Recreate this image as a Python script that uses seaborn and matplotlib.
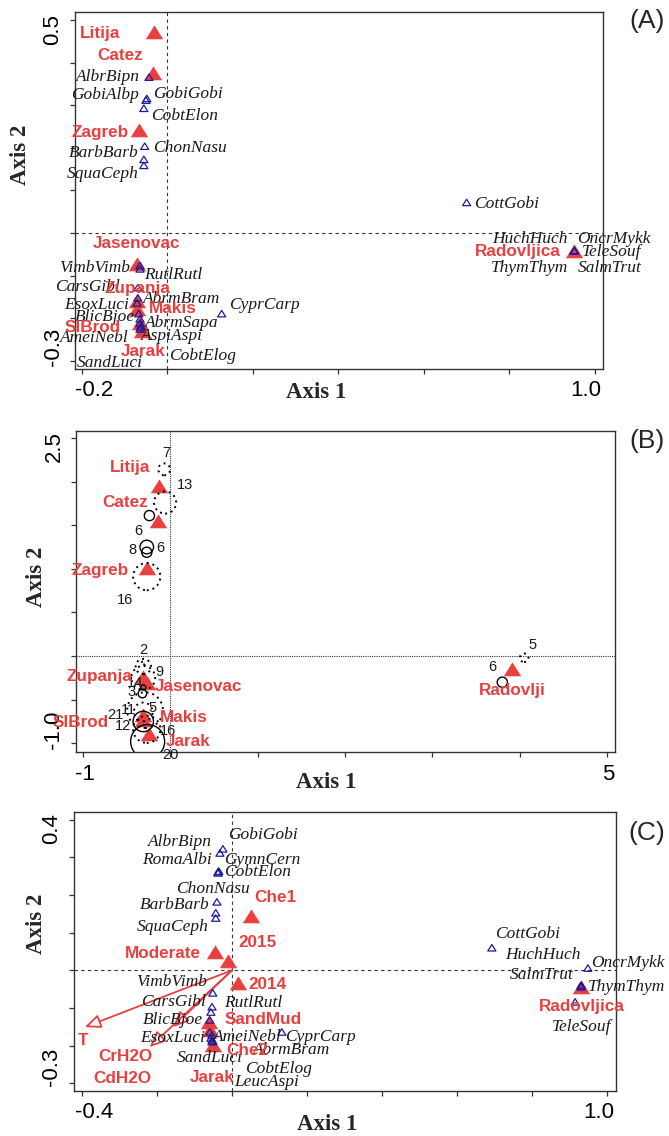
import matplotlib
matplotlib.use("Agg")
import matplotlib.pyplot as plt
from matplotlib.path import Path
import seaborn as sns
import pandas as pd

# ---------------- Panel A data ----------------
a_sites = ["Litija", "Catez", "Zagreb", "Jasenovac", "Zupanja", "Makis", "SlBrod", "Jarak", "Radovljica"]
a_site_x = [-0.032, -0.034, -0.067, -0.072, -0.071, -0.071, -0.064, -0.060, 0.952]
a_site_y = [0.472, 0.375, 0.241, -0.072, -0.159, -0.178, -0.211, -0.229, -0.041]
a_site_lx = [-0.158, -0.111, -0.158, -0.071, -0.071, 0.013, -0.174, -0.057, 0.819]
a_site_ly = [0.469, 0.418, 0.236, -0.025, -0.131, -0.178, -0.222, -0.279, -0.044]

a_spec = ["AlbrBipn", "GobiAlbp", "GobiGobi", "CobtElon", "ChonNasu", "BarbBarb", "SquaCeph",
          "CottGobi", "HuchHuch", "OncrMykk", "TeleSouf", "ThymThym", "SalmTrut",
          "VimbVimb", "RutlRutl", "CarsGibl", "AbrmBram", "EsoxLuci", "BlicBjoe", "AbrmSapa",
          "AspiAspi", "AmeiNebl", "CyprCarp", "CobtElog", "SandLuci"]
a_spec_x = [-0.043, -0.050, -0.048, -0.055, -0.053, -0.055, -0.055,
            0.700, 0.952, 0.952, 0.952, 0.952, 0.952,
            -0.064, -0.064, -0.069, -0.069, -0.071, -0.067, -0.064,
            -0.062, -0.064, 0.127, -0.062, -0.064]
a_spec_y = [0.366, 0.312, 0.316, 0.293, 0.204, 0.173, 0.159,
            0.072, -0.041, -0.041, -0.041, -0.041, -0.041,
            -0.076, -0.084, -0.128, -0.152, -0.164, -0.189, -0.211,
            -0.218, -0.201, -0.189, -0.222, -0.225]
a_spec_lx = [-0.139, -0.146, 0.048, 0.041, 0.052, -0.149, -0.151,
             0.793, 0.847, 1.045, 1.038, 0.847, 1.034,
             -0.170, 0.013, -0.186, 0.034, -0.165, -0.146, 0.034,
             0.010, -0.170, 0.228, 0.083, -0.135]
a_spec_ly = [0.366, 0.324, 0.326, 0.274, 0.199, 0.189, 0.138,
             0.069, -0.013, -0.013, -0.044, -0.081, -0.081,
             -0.081, -0.098, -0.126, -0.154, -0.168, -0.196, -0.211,
             -0.241, -0.246, -0.168, -0.288, -0.305]

# ---------------- Panel B data ----------------
b_sites = ["Litija", "Catez", "Zagreb", "Zupanja", "Jasenovac", "Makis", "SlBrod", "Jarak", "Radovlji"]
b_site_x = [-0.13, -0.14, -0.27, -0.31, -0.27, -0.31, -0.31, -0.24, 3.91]
b_site_y = [1.95, 1.55, 1.01, -0.24, -0.31, -0.68, -0.73, -0.89, -0.15]
b_site_lx = [-0.46, -0.52, -0.81, -0.81, 0.32, 0.15, -1.03, 0.20, 3.91]
b_site_ly = [2.16, 1.76, 0.98, -0.24, -0.35, -0.70, -0.76, -0.98, -0.40]

b_circ_n = [7, 13, 6, 8, 6, 16, 2, 9, 14, 3, 5, 11, 21, 12, 16, 20, 5, 6]
b_circ_x = [-0.07, -0.06, -0.24, -0.27, -0.27, -0.27, -0.31, -0.31, -0.31, -0.31, -0.32,
            -0.31, -0.29, -0.31, -0.27, -0.26, 4.05, 3.80]
b_circ_y = [2.14, 1.76, 1.61, 1.25, 1.19, 0.91, -0.08, -0.12, -0.25, -0.36, -0.43,
            -0.64, -0.62, -0.75, -0.84, -0.98, -0.02, -0.30]
b_circ_solid = [False, False, True, True, True, False, False, False, False, True, True,
                False, False, True, False, True, False, True]
b_circ_lx = [-0.05, 0.17, -0.37, -0.43, -0.11, -0.52, -0.31, -0.13, -0.40, -0.44, -0.20,
             -0.48, -0.63, -0.54, -0.03, 0.00, 4.15, 3.68]
b_circ_ly = [2.33, 1.96, 1.43, 1.22, 1.24, 0.64, 0.07, -0.18, -0.31, -0.41, -0.59,
             -0.62, -0.68, -0.80, -0.86, -1.13, 0.13, -0.13]

# ---------------- Panel C data ----------------
c_sites = ["Che1", "Moderate", "2015", "2014", "SandMud", "Che2", "Jarak", "Radovljica"]
c_site_x = [0.051, -0.045, -0.011, 0.016, -0.061, -0.059, -0.051, 0.931]
c_site_y = [0.145, 0.049, 0.025, -0.034, -0.137, -0.159, -0.198, -0.044]
c_site_lx = [0.117, -0.184, 0.067, 0.096, 0.083, 0.040, -0.053, 0.933]
c_site_ly = [0.193, 0.046, 0.073, -0.039, -0.132, -0.212, -0.286, -0.097]

c_env = ["T", "CrH2O", "CdH2O"]
c_env_x = [-0.392, -0.157, -0.219]
c_env_y = [-0.151, -0.151, -0.204]
c_env_lx = [-0.397, -0.285, -0.293]
c_env_ly = [-0.188, -0.228, -0.289]

c_spec = ["GobiGobi", "AlbrBipn", "RomaAlbi", "GymnCern", "CobtElon", "ChonNasu", "BarbBarb",
          "SquaCeph", "VimbVimb", "CarsGibl", "RutlRutl", "BlicBjoe", "EsoxLuci", "AmeiNebl",
          "AbrmBram", "SandLuci", "CobtElog", "LeucAspi", "CyprCarp", "CottGobi", "HuchHuch",
          "OncrMykk", "SalmTrut", "ThymThym", "TeleSouf"]
c_spec_x = [-0.024, -0.032, -0.037, -0.035, -0.037, -0.040, -0.043,
            -0.043, -0.051, -0.053, -0.056, -0.059, -0.059, -0.053,
            -0.053, -0.053, -0.056, -0.051, 0.133, 0.693, 0.931,
            0.949, 0.931, 0.931, 0.915]
c_spec_y = [0.323, 0.312, 0.262, 0.264, 0.259, 0.182, 0.153,
            0.139, -0.060, -0.097, -0.111, -0.132, -0.164, -0.172,
            -0.185, -0.190, -0.180, -0.188, -0.164, 0.060, -0.039,
            0.006, -0.044, -0.041, -0.084]
c_spec_lx = [0.083, -0.139, -0.147, 0.080, 0.069, -0.051, -0.152,
             -0.157, -0.160, -0.157, 0.056, -0.157, -0.157, 0.040,
             0.160, -0.059, 0.123, 0.093, 0.235, 0.789, 0.829,
             1.056, 0.827, 1.053, 0.933]
c_spec_ly = [0.360, 0.341, 0.294, 0.294, 0.262, 0.217, 0.174,
             0.115, -0.031, -0.084, -0.087, -0.132, -0.180, -0.177,
             -0.212, -0.233, -0.262, -0.297, -0.177, 0.097, 0.041,
             0.020, -0.012, -0.044, -0.151]

# ---------------- styling ----------------
sns.set_theme(style="white")
plt.rcParams['font.family'] = ['Liberation Sans', 'DejaVu Sans']

RED = "#E8403F"
BLUE = "#1C1C9C"
INK = "#1a1a1a"
FRAME = "#333333"
W, H = 669, 1136
TRI = Path([(0, 0.8), (-1, -0.8), (1, -0.8), (0, 0.8)],
           [Path.MOVETO, Path.LINETO, Path.LINETO, Path.CLOSEPOLY])

fig = plt.figure(figsize=(W / 100, H / 100), dpi=100)


def px_rect(l, t, r, b):
    return [l / W, 1 - b / H, (r - l) / W, (b - t) / H]


def frame(ax, xlim, ylim, xt, yt, ls, xlabs, ylabs):
    ax.set_xlim(xlim)
    ax.set_ylim(ylim)
    ax.set_xticks(xt)
    ax.set_yticks(yt)
    ax.set_xticklabels([])
    ax.set_yticklabels([])
    ax.set_xlabel("")
    ax.set_ylabel("")
    ax.grid(False)
    ax.tick_params(direction="out", length=3.5, width=0.9, color=FRAME,
                   bottom=True, left=True, top=False, right=False, pad=0)
    for s in ax.spines.values():
        s.set_visible(True)
        s.set_color(FRAME)
        s.set_linewidth(1.0)
    ax.axhline(0, color=FRAME, lw=0.8, ls=ls, zorder=0.5)
    ax.axvline(0, color=FRAME, lw=0.8, ls=ls, zorder=0.5)
    for val, txt, dx in xlabs:
        ax.annotate(txt, xy=(val, 0), xycoords=ax.get_xaxis_transform(),
                    xytext=(dx, -22), textcoords="offset pixels",
                    ha="center", va="center", fontsize=16, color="black")
    for val, txt, dy in ylabs:
        ax.annotate(txt, xy=(0, val), xycoords=ax.get_yaxis_transform(),
                    xytext=(-22, dy), textcoords="offset pixels", rotation=90,
                    ha="center", va="center", fontsize=16, color="black")


def sites(ax, names, x, y, lx, ly):
    df = pd.DataFrame({"x": x, "y": y})
    sns.scatterplot(data=df, x="x", y="y", ax=ax, marker=TRI, s=135, color=RED,
                    edgecolor=RED, linewidth=0.5, zorder=3, legend=False)
    for n, tx, ty in zip(names, lx, ly):
        ax.text(tx, ty, n, color=RED, fontsize=12.3, fontweight="bold",
                ha="center", va="center", zorder=6, clip_on=False,
                family=["Liberation Sans", "DejaVu Sans"])


def species(ax, names, x, y, lx, ly):
    df = pd.DataFrame({"x": x, "y": y})
    sns.scatterplot(data=df, x="x", y="y", ax=ax, marker=TRI, s=34, color=BLUE,
                    facecolor="none", edgecolor=BLUE, linewidth=0.9, zorder=4, legend=False)
    for n, tx, ty in zip(names, lx, ly):
        ax.text(tx, ty, n, color=INK, fontsize=12.5, fontstyle="italic",
                ha="center", va="center", zorder=5, clip_on=False,
                family=["Liberation Serif", "DejaVu Serif"])


def titles(xc, yc, x2, y2, letter, lx, ly):
    fig.text(xc / W, 1 - yc / H, "Axis 1", ha="center", va="center", fontsize=16.5,
             fontweight="bold", family=["Liberation Serif", "DejaVu Serif"])
    fig.text(x2 / W, 1 - y2 / H, "Axis 2", ha="center", va="center", fontsize=16.5,
             fontweight="bold", rotation=90, family=["Liberation Serif", "DejaVu Serif"])
    fig.text(lx / W, 1 - ly / H, letter, ha="center", va="center", fontsize=19)


# ---------------- Panel A ----------------
axA = fig.add_axes(px_rect(75, 12, 603, 369))
sites(axA, a_sites, a_site_x, a_site_y, a_site_lx, a_site_ly)
species(axA, a_spec, a_spec_x, a_spec_y, a_spec_lx, a_spec_ly)
frame(axA, (-0.216, 1.019), (-0.319, 0.519),
      [-0.2, 0.0, 0.2, 0.4, 0.6, 0.8, 1.0],
      [-0.3, -0.2, -0.1, 0.0, 0.1, 0.2, 0.3, 0.4, 0.5], (0, (3, 3)),
      [(-0.2, "-0.2", 12), (1.0, "1.0", -9)],
      [(0.5, "0.5", -9), (-0.3, "-0.3", 14)])
titles(316, 392, 20, 155, "(A)", 647, 21)

# ---------------- Panel B ----------------
axB = fig.add_axes(px_rect(76, 431, 615, 752))
sites(axB, b_sites, b_site_x, b_site_y, b_site_lx, b_site_ly)
cdf = pd.DataFrame({"x": b_circ_x, "y": b_circ_y, "n": b_circ_n, "solid": b_circ_solid})
for solid, sub in cdf.groupby("solid"):
    sns.scatterplot(data=sub, x="x", y="y", ax=axB, marker="o",
                    s=[(1.224 * v) ** 2 for v in sub["n"]],
                    color="black", facecolor="none", edgecolor="black",
                    linewidth=1.0 if solid else 1.4,
                    linestyle="-" if solid else (0, (1, 2.0)),
                    zorder=4, legend=False)
for v, tx, ty in zip(b_circ_n, b_circ_lx, b_circ_ly):
    axB.text(tx, ty, str(v), fontsize=10.5, color=INK, ha="center", va="center", zorder=5)
frame(axB, (-1.08, 5.09), (-1.10, 2.58),
      [-1, 0, 1, 2, 3, 4, 5],
      [-1.0, -0.5, 0.0, 0.5, 1.0, 1.5, 2.0, 2.5], (0, (1, 1)),
      [(-1, "-1", 2), (5, "5", 1)],
      [(2.5, "2.5", -9), (-1.0, "-1.0", 13)])
titles(326, 783, 37, 577, "(B)", 647, 441)

# ---------------- Panel C ----------------
axC = fig.add_axes(px_rect(74, 812, 616, 1091))
for ex, ey in zip(c_env_x, c_env_y):
    axC.annotate("", xy=(ex, ey), xytext=(0, 0),
                 arrowprops=dict(arrowstyle="-|>,head_length=0.8,head_width=0.35",
                                 color=RED, fc="white", lw=1.3, shrinkA=0, shrinkB=0),
                 zorder=2)
for n, tx, ty in zip(c_env, c_env_lx, c_env_ly):
    axC.text(tx, ty, n, color=RED, fontsize=12.3, fontweight="bold",
             ha="center", va="center", zorder=6, clip_on=False)
sites(axC, c_sites, c_site_x, c_site_y, c_site_lx, c_site_ly)
species(axC, c_spec, c_spec_x, c_spec_y, c_spec_lx, c_spec_ly)
frame(axC, (-0.421, 1.024), (-0.321, 0.421),
      [-0.4, -0.2, 0.0, 0.2, 0.4, 0.6, 0.8, 1.0],
      [-0.3, -0.2, -0.1, 0.0, 0.1, 0.2, 0.3, 0.4], (0, (3, 3)),
      [(-0.4, "-0.4", 12), (1.0, "1.0", -8)],
      [(0.4, "0.4", -9), (-0.3, "-0.3", 16)])
titles(327, 1125, 37, 924, "(C)", 647, 833)

fig.savefig("out.png", dpi=100)
